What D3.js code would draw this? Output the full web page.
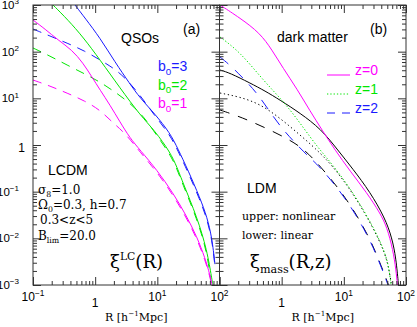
<!DOCTYPE html>
<html>
<head>
<meta charset="utf-8">
<script src="https://cdn.jsdelivr.net/npm/d3@7"></script>
<style>
body { margin: 0; background: #fff; }
svg { display: block; }
</style>
</head>
<body>
<div id="chart"></div>
<script>

// ---- panel (a): QSO light-cone correlation, [R (h^-1 Mpc), xi] ----
var qsoB3Nonlin = [[0.474,1000],[0.686,526],[1.2,196],[2.08,60],[3.63,20.3],[5.26,10.2],[9.16,4.62],[16,1.81],[21.5,0.82],[31.1,0.291],[48.5,0.0733],[63,0.0286],[75.7,0.0102],[84.5,0.0028]];
var qsoB3Lin = [[0.1,306],[0.187,217],[0.352,153],[0.686,103],[1.2,66.4],[2.08,42.5],[3.02,27.3],[4.38,15.8],[6.33,8.35],[9.16,4.19],[16,1.64],[21.5,0.745],[31.1,0.264],[48.5,0.0664],[63,0.026],[75.7,0.0092],[83,0.0031]];
var qsoB2Nonlin = [[0.21,1000],[0.366,477],[0.637,206],[1.2,66.4],[2.51,16.7],[5.26,4.4],[9.16,2.0],[16,0.708],[20.7,0.338],[25.9,0.153],[43.5,0.0286],[63,0.0056],[75.7,0.00128],[78.5,0.001]];
var qsoB2Lin = [[0.1,120],[0.187,80.7],[0.352,51.8],[0.686,33.2],[1.2,22.4],[2.08,13.7],[3.63,7.94],[6.33,3.79],[9.16,1.81],[16,0.641],[20.7,0.306],[25.9,0.139],[43.5,0.026],[63,0.0051],[72.9,0.00116]];
var qsoB1Nonlin = [[0.1,477],[0.156,306],[0.252,178],[0.424,109],[0.637,57.2],[0.889,28.6],[1.2,15.1],[1.73,7.2],[2.51,3.11],[3.63,1.41],[5.26,0.782],[9.87,0.291],[17.9,0.0937],[28.9,0.0316],[43.5,0.0107],[58.5,0.00379],[70.3,0.00164],[75.7,0.001]];
var qsoB1Lin = [[0.1,24.7],[0.187,18.4],[0.352,13],[0.686,8.77],[1.2,5.62],[1.94,2.96],[3.02,1.81],[5.26,0.708],[9.87,0.264],[17.9,0.0849],[28.9,0.0286],[43.5,0.0097],[58.5,0.00344],[70.3,0.00149],[74.3,0.001]];

// ---- panel (b): dark matter, nonlinear vs linear ----
var dmZ0Nonlin = [[0.102,1000],[0.214,526],[0.448,251],[0.698,109],[1.05,44.7],[1.77,15.8],[2.86,5.35],[4.46,2.1],[7.21,0.782],[12.6,0.277],[23.6,0.0937],[38.2,0.0349],[49.4,0.0175],[61.8,0.0056],[69,0.0021],[72.9,0.001]];
var dmZ0Lin = [[0.102,40.5],[0.147,34.9],[0.31,21.3],[0.54,14.4],[0.94,9.2],[1.97,4.85],[4.3,2.2],[7.76,0.82],[14,0.306],[26.4,0.0984],[45.9,0.0273],[59.5,0.0102],[69,0.00379],[75.7,0.001]];
var dmZ1Nonlin = [[0.102,206],[0.214,98.4],[0.501,24.7],[1.05,8.77],[1.77,3.61],[2.86,1.49],[4.14,0.782],[6.45,0.392],[14,0.0984],[29.4,0.0184],[45.9,0.0051],[53.2,0.00232],[57.4,0.001]];
var dmZ1Lin = [[0.102,13],[0.214,10.7],[0.448,7.56],[0.94,3.79],[1.97,1.64],[3.43,0.863],[6.45,0.373],[14,0.0937],[29.4,0.0175],[45.9,0.00485],[53.2,0.0022],[58.5,0.001]];
var dmZ2Nonlin = [[0.102,76.9],[0.147,51.8],[0.239,27.3],[0.401,13],[0.649,5.09],[1.05,2.1],[1.97,0.863],[2.86,0.527],[4.14,0.338],[8.66,0.104],[15.1,0.0349],[26.4,0.0092],[35.4,0.00361],[44.3,0.00172],[51.3,0.001]];
var dmZ2Lin = [[0.102,5.62],[0.177,4.4],[0.31,3.27],[0.649,2.1],[1.36,1.28],[2.37,0.782],[4.14,0.355],[8.66,0.109],[15.1,0.0367],[26.4,0.0097],[35.4,0.00379],[44.3,0.00181],[52.2,0.001]];

// tick labels (exponents of 10)
var xLabelExpA = [-1, 0, 1, 2];
var xLabelExpB = [0, 1, 2];
var yLabelExp = [3, 2, 1, 0, -1, -2, -3];

var blue = "#1a1aff", green = "#00e600", magenta = "#ff00ff";

var width = 417, height = 327;
var plotTop = 5, plotBottom = 285;
var sans = "'Liberation Sans', Arial, Helvetica, sans-serif";
var serif = "'DejaVu Serif', serif";

var svg = d3.select("#chart")
    .append("svg")
    .attr("width", width)
    .attr("height", height);

var y = d3.scaleLog().domain([1e-3, 1e3]).range([plotBottom, plotTop]);
var xa = d3.scaleLog().domain([0.1, 100]).range([33, 219.5]);
var xb = d3.scaleLog().domain([0.1, 100]).range([219.5, 406]);

function isMajor(v) {
    var l = Math.log10(v);
    return Math.abs(l - Math.round(l)) < 1e-6;
}

// text with super/subscripts: parts = ["txt", {t:"x", sup:true}, ...]
function rich(x, yy, parts, opts) {
    var t = svg.append("text")
        .attr("x", x).attr("y", yy)
        .attr("font-family", opts.family)
        .attr("font-size", opts.size)
        .attr("fill", opts.fill || "#000")
        .attr("text-anchor", opts.anchor || "start");
    var shift = 0;
    parts.forEach(function(p) {
        var s = typeof p === "string" ? { t: p } : p;
        var target = s.sup ? -opts.size * (s.raise || 0.42) : s.sub ? opts.size * (s.drop || 0.25) : 0;
        var ts = t.append("tspan").text(s.t).attr("dy", target - shift);
        if (s.sup || s.sub) ts.attr("font-size", opts.size * (s.scale || 0.68));
        shift = target;
    });
    return t;
}

function powLabel(e) {
    if (e === 0) return ["1"];
    return ["10", { t: String(e).replace("-", "\u2212"), sup: true, scale: 0.7 }];
}

var line = function(x) {
    return d3.line()
        .x(function(d) { return x(d[0]); })
        .y(function(d) { return y(d[1]); })
        .curve(d3.curveBasis);
};

function drawPanel(id, x, series) {
    var x0 = x.range()[0], x1 = x.range()[1];
    svg.append("clipPath").attr("id", "clip" + id)
        .append("rect")
        .attr("x", x0).attr("y", plotTop)
        .attr("width", x1 - x0).attr("height", plotBottom - plotTop);

    var g = svg.append("g").attr("clip-path", "url(#clip" + id + ")");
    series.forEach(function(s) {
        g.append("path")
            .datum(s.data)
            .attr("d", line(x))
            .attr("fill", "none")
            .attr("stroke", s.color)
            .attr("stroke-width", 1)
            .attr("stroke-dasharray", s.dash || null);
    });

    var xt = x.ticks(), yt = y.ticks();
    var xMinor = xt.filter(function(v) { return !isMajor(v); });
    var xMajor = xt.filter(isMajor);
    var yMinor = yt.filter(function(v) { return !isMajor(v); });
    var yMajor = yt.filter(isMajor);

    var axes = svg.append("g").attr("class", "axes");
    function tk(axis, tr, vals, size) {
        axes.append("g")
            .attr("transform", tr)
            .call(axis.tickValues(vals).tickSize(-size).tickSizeOuter(0).tickFormat(""))
            .call(function(a) { a.select(".domain").remove(); })
            .selectAll("line").attr("stroke", "#333");
    }
    tk(d3.axisBottom(x), "translate(0," + plotBottom + ")", xMinor, 4);
    tk(d3.axisBottom(x), "translate(0," + plotBottom + ")", xMajor, 8);
    tk(d3.axisTop(x), "translate(0," + plotTop + ")", xMinor, 4);
    tk(d3.axisTop(x), "translate(0," + plotTop + ")", xMajor, 8);
    tk(d3.axisLeft(y), "translate(" + x0 + ",0)", yMinor, 4);
    tk(d3.axisLeft(y), "translate(" + x0 + ",0)", yMajor, 8);
    tk(d3.axisRight(y), "translate(" + x1 + ",0)", yMinor, 4);
    tk(d3.axisRight(y), "translate(" + x1 + ",0)", yMajor, 8);

    svg.append("rect")
        .attr("x", x0).attr("y", plotTop)
        .attr("width", x1 - x0).attr("height", plotBottom - plotTop)
        .attr("fill", "none").attr("stroke", "#333").attr("stroke-width", 1);
}

drawPanel("a", xa, [
    { data: qsoB3Lin, color: blue, dash: "9,7" },
    { data: qsoB2Lin, color: green, dash: "9,7" },
    { data: qsoB1Lin, color: magenta, dash: "9,7" },
    { data: qsoB3Nonlin, color: blue },
    { data: qsoB2Nonlin, color: green },
    { data: qsoB1Nonlin, color: magenta }
]);

drawPanel("b", xb, [
    { data: dmZ0Lin, color: "#000" },
    { data: dmZ1Lin, color: "#000", dash: "1.3,2.7" },
    { data: dmZ2Lin, color: "#000", dash: "10,9" },
    { data: dmZ0Nonlin, color: magenta },
    { data: dmZ1Nonlin, color: green, dash: "1.3,2" },
    { data: dmZ2Nonlin, color: blue, dash: "11,9" }
]);

// y tick labels
yLabelExp.forEach(function(e) {
    var v = Math.pow(10, e);
    if (e === 0) rich(25, y(v) + 6.5, powLabel(e), { family: sans, size: 12, anchor: "end" });
    else rich(19, y(v) + 4, powLabel(e), { family: sans, size: 11.5, anchor: "end" });
});

// x tick labels
function xLabels(x, exps) {
    exps.forEach(function(e) {
        var v = Math.pow(10, e);
        rich(x(v), e === 0 ? 307 : 301, powLabel(e), { family: sans, size: 12, anchor: "middle" });
    });
}
xLabels(xa, xLabelExpA);
xLabels(xb, xLabelExpB);

// axis titles
[xa, xb].forEach(function(x) {
    var mid = (x.range()[0] + x.range()[1]) / 2 + 10;
    rich(mid, 321, ["R [h", { t: "\u22121", sup: true, scale: 0.65 }, "Mpc]"], { family: serif, size: 11, anchor: "middle" });
});

// panel (a) annotations
rich(121, 43, ["QSOs"], { family: sans, size: 14 });
rich(183, 34, ["(a)"], { family: sans, size: 14 });
rich(158, 71, ["b", { t: "0", sub: true, scale: 0.7 }, "=3"], { family: sans, size: 14, fill: blue });
rich(158, 89.5, ["b", { t: "0", sub: true, scale: 0.7 }, "=2"], { family: sans, size: 14, fill: green });
rich(158, 108, ["b", { t: "0", sub: true, scale: 0.7 }, "=1"], { family: sans, size: 14, fill: magenta });
rich(48, 175, ["LCDM"], { family: sans, size: 14 });
rich(38, 194, ["\u03c3", { t: "8", sub: true, scale: 0.65 }, "=1.0"], { family: serif, size: 12 });
rich(38, 209, ["\u03a9", { t: "0", sub: true, scale: 0.65 }, "=0.3,  h=0.7"], { family: serif, size: 12 });
rich(40, 224, ["0.3<z<5"], { family: serif, size: 12 });
rich(38, 240, ["B", { t: "lim", sub: true, scale: 0.65 }, "=20.0"], { family: serif, size: 12 });
rich(110, 268, ["\u03be", { t: "LC", sup: true, scale: 0.6, raise: 0.45 }, "(R)"], { family: serif, size: 18 });

// panel (b) annotations
rich(277, 42, ["dark matter"], { family: sans, size: 14 });
rich(370, 34, ["(b)"], { family: sans, size: 14 });
rich(247, 193, ["LDM"], { family: sans, size: 14 });
rich(242, 220, ["upper: nonlinear"], { family: serif, size: 11 });
rich(242, 239, ["lower: linear"], { family: serif, size: 11 });
rich(250, 268, ["\u03be", { t: "mass", sub: true, scale: 0.62, drop: 0.3 }, "(R,z)"], { family: serif, size: 18 });

// panel (b) legend
var legend = [
    { label: "z=0", color: magenta, dash: null },
    { label: "z=1", color: green, dash: "1.3,2" },
    { label: "z=2", color: blue, dash: "8,7" }
];
legend.forEach(function(d, i) {
    var ly = 75 + i * 19;
    svg.append("line")
        .attr("x1", 327).attr("x2", 350)
        .attr("y1", ly).attr("y2", ly)
        .attr("stroke", d.color).attr("stroke-width", 1)
        .attr("stroke-dasharray", d.dash);
    rich(355, ly, [d.label], { family: sans, size: 14, fill: d.color });
});
</script>
</body>
</html>
